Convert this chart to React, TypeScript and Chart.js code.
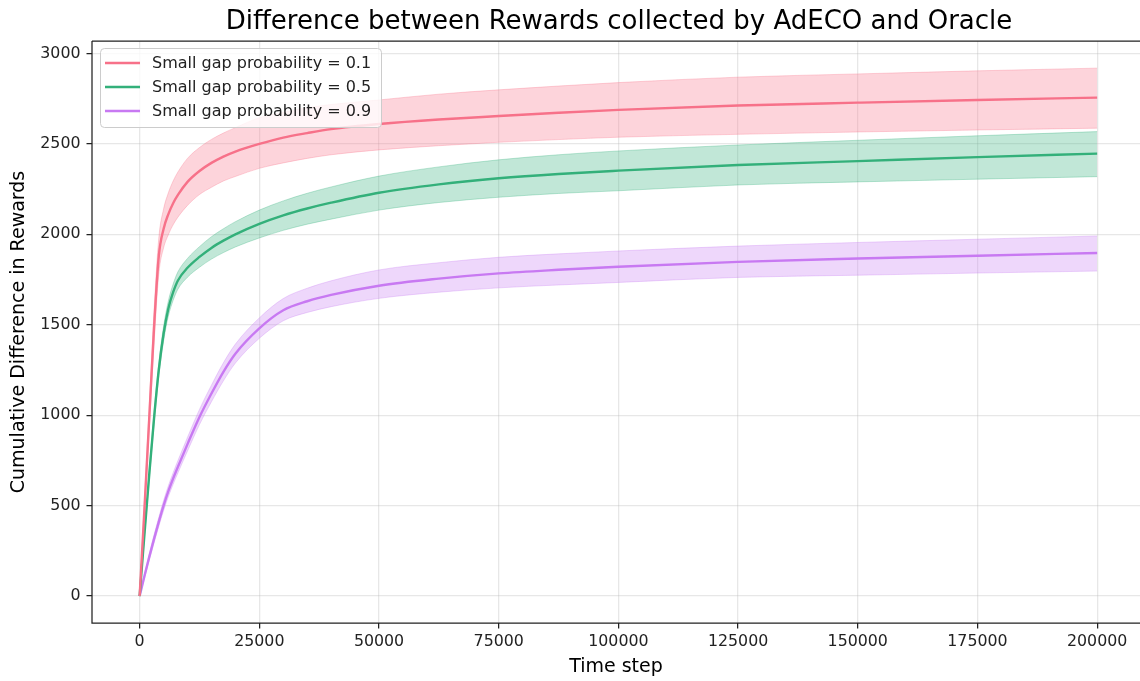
import React, { useEffect, useRef } from "react";
import { Chart, registerables } from "chart.js";

Chart.register(...registerables);

const FONT = "'DejaVu Sans', sans-serif";

const chartTitle = "Difference between Rewards collected by AdECO and Oracle";
const xAxisTitle = "Time step";
const yAxisTitle = "Cumulative Difference in Rewards";

const steps = [0, 1000, 2000, 3000, 4000, 5000, 6000, 7000, 8000, 10000, 12500, 15000, 17500, 20000, 25000, 30000, 35000, 40000, 50000, 62500, 75000, 87500, 100000, 125000, 150000, 175000, 200000];

const seriesLabels = ["Small gap probability = 0.1", "Small gap probability = 0.5", "Small gap probability = 0.9"];

const redMean = [0, 480, 980, 1480, 1880, 2030, 2112, 2172, 2218, 2290, 2350, 2395, 2430, 2458, 2500, 2535, 2560, 2582, 2610, 2635, 2654, 2672, 2688, 2712, 2728, 2743, 2756];
const redUpper = [0, 520, 1045, 1570, 1980, 2140, 2230, 2295, 2345, 2420, 2480, 2525, 2560, 2590, 2645, 2675, 2700, 2718, 2743, 2775, 2799, 2820, 2839, 2869, 2887, 2904, 2919];
const redLower = [0, 440, 915, 1390, 1780, 1925, 1998, 2053, 2095, 2160, 2220, 2260, 2295, 2320, 2365, 2395, 2420, 2440, 2467, 2490, 2509, 2524, 2537, 2553, 2566, 2577, 2587];

const greenMean = [0, 340, 670, 980, 1250, 1450, 1590, 1680, 1745, 1815, 1875, 1925, 1965, 2000, 2058, 2105, 2143, 2175, 2230, 2276, 2310, 2334, 2352, 2383, 2405, 2427, 2446];
const greenUpper = [0, 355, 695, 1010, 1285, 1490, 1632, 1725, 1793, 1867, 1932, 1987, 2031, 2070, 2134, 2185, 2227, 2262, 2322, 2373, 2412, 2440, 2461, 2494, 2520, 2545, 2568];
const greenLower = [0, 325, 645, 950, 1215, 1410, 1548, 1635, 1697, 1763, 1818, 1863, 1899, 1930, 1980, 2022, 2056, 2084, 2134, 2176, 2205, 2226, 2241, 2273, 2290, 2305, 2319];

const purpleMean = [0, 110, 215, 315, 410, 500, 580, 650, 715, 840, 990, 1120, 1240, 1340, 1480, 1580, 1630, 1665, 1716, 1755, 1784, 1804, 1821, 1848, 1866, 1882, 1897];
const purpleUpper = [0, 122, 233, 337, 435, 528, 610, 682, 749, 878, 1032, 1166, 1290, 1393, 1538, 1645, 1702, 1743, 1803, 1843, 1873, 1892, 1908, 1935, 1955, 1973, 1991];
const purpleLower = [0, 98, 197, 293, 385, 472, 550, 618, 681, 802, 948, 1074, 1190, 1288, 1425, 1522, 1568, 1600, 1646, 1680, 1704, 1720, 1734, 1762, 1774, 1786, 1797];

const xTicks = [0, 25000, 50000, 75000, 100000, 125000, 150000, 175000, 200000];
const yTicks = [0, 500, 1000, 1500, 2000, 2500, 3000];

const seriesRGB = ["247,113,137", "51,176,122", "200,121,242"];

const toPoints = (ys: number[]) => steps.map((x, i) => ({ x, y: ys[i] }));

const decorPlugin = {
  id: "decor",
  afterDatasetsDraw(chart: any) {
    const { ctx, chartArea } = chart;
    ctx.save();
    ctx.strokeStyle = "#222";
    ctx.lineWidth = 1.25;
    ctx.beginPath();
    ctx.moveTo(chartArea.left, chartArea.top);
    ctx.lineTo(chartArea.right + 2, chartArea.top);
    ctx.moveTo(chartArea.left, chartArea.top);
    ctx.lineTo(chartArea.left, chartArea.bottom);
    ctx.lineTo(chartArea.right + 2, chartArea.bottom);
    ctx.stroke();
    ctx.restore();
  },
  afterDraw(chart: any) {
    const { ctx } = chart;
    ctx.save();
    // title, centred on the axes (whose right part is cropped off)
    ctx.font = `26px ${FONT}`;
    ctx.fillStyle = "#000";
    ctx.textAlign = "center";
    ctx.textBaseline = "middle";
    ctx.fillText(chartTitle, 619, 22);

    // legend
    const ds = chart.data.datasets.slice(0, 3);
    const bx = 100.5, by = 48.5, bw = 281, bh = 79, r = 4;
    ctx.beginPath();
    ctx.moveTo(bx + r, by);
    ctx.lineTo(bx + bw - r, by);
    ctx.arcTo(bx + bw, by, bx + bw, by + r, r);
    ctx.lineTo(bx + bw, by + bh - r);
    ctx.arcTo(bx + bw, by + bh, bx + bw - r, by + bh, r);
    ctx.lineTo(bx + r, by + bh);
    ctx.arcTo(bx, by + bh, bx, by + bh - r, r);
    ctx.lineTo(bx, by + r);
    ctx.arcTo(bx, by, bx + r, by, r);
    ctx.closePath();
    ctx.fillStyle = "rgba(255,255,255,0.8)";
    ctx.fill();
    ctx.strokeStyle = "#cccccc";
    ctx.lineWidth = 1;
    ctx.stroke();
    ctx.font = `16px ${FONT}`;
    ctx.textBaseline = "middle";
    ctx.textAlign = "left";
    ds.forEach((d: any, i: number) => {
      const y = 63 + i * 24;
      ctx.strokeStyle = d.borderColor;
      ctx.lineWidth = 2.4;
      ctx.beginPath();
      ctx.moveTo(105, y);
      ctx.lineTo(140, y);
      ctx.stroke();
      ctx.fillStyle = "#222";
      ctx.fillText(d.label, 152, y + 1);
    });
    ctx.restore();
  },
};

export default function App() {
  const canvasRef = useRef<HTMLCanvasElement | null>(null);

  useEffect(() => {
    if (!canvasRef.current) return;
    const means = [redMean, greenMean, purpleMean];
    const uppers = [redUpper, greenUpper, purpleUpper];
    const lowers = [redLower, greenLower, purpleLower];

    const lineSets = means.map((m, i) => ({
      label: seriesLabels[i],
      data: toPoints(m),
      borderColor: `rgb(${seriesRGB[i]})`,
      backgroundColor: `rgb(${seriesRGB[i]})`,
      borderWidth: 2.4,
      pointRadius: 0,
      fill: false,
      cubicInterpolationMode: "monotone" as const,
      order: 0,
    }));
    const bandSets: any[] = [];
    uppers.forEach((u, i) => {
      bandSets.push({
        label: seriesLabels[i] + " (upper)",
        data: toPoints(u),
        borderColor: `rgba(${seriesRGB[i]},0.3)`,
        backgroundColor: `rgba(${seriesRGB[i]},0.3)`,
        borderWidth: 1,
        pointRadius: 0,
        fill: "+1",
        cubicInterpolationMode: "monotone",
        order: 1,
      });
      bandSets.push({
        label: seriesLabels[i] + " (lower)",
        data: toPoints(lowers[i]),
        borderColor: `rgba(${seriesRGB[i]},0.3)`,
        backgroundColor: `rgba(${seriesRGB[i]},0.3)`,
        borderWidth: 1,
        pointRadius: 0,
        fill: false,
        cubicInterpolationMode: "monotone",
        order: 1,
      });
    });

    const tickFont = { family: FONT, size: 15.8 };
    const gridColor = "rgba(176,176,176,0.3)";

    const chart = new Chart(canvasRef.current, {
      type: "line",
      data: { datasets: [...lineSets, ...bandSets] },
      options: {
        animation: false,
        responsive: true,
        maintainAspectRatio: false,
        layout: { padding: { top: 41, left: 0, right: 0, bottom: 0 } },
        plugins: {
          legend: { display: false },
          tooltip: { enabled: false },
          title: { display: false },
        },
        scales: {
          x: {
            type: "linear",
            min: -9950,
            max: 208950,
            afterBuildTicks: (scale: any) => {
              scale.ticks = xTicks.map((v) => ({ value: v }));
            },
            afterFit: (scale: any) => {
              scale.height = 58;
            },
            ticks: {
              callback: (v: any) => String(v),
              font: tickFont,
              color: "#222",
              padding: 4,
              maxRotation: 0,
              autoSkip: false,
              includeBounds: false,
            },
            grid: {
              color: gridColor,
              lineWidth: 1.26,
              drawTicks: true,
              tickLength: 5.5,
              tickColor: "#222",
              tickWidth: 1.25,
            },
            border: { display: false },
            title: {
              display: true,
              text: xAxisTitle,
              color: "#000",
              font: { family: FONT, size: 19, lineHeight: 1.2 },
              padding: { top: 0, bottom: 2.5 },
            },
          },
          y: {
            type: "linear",
            min: -149,
            max: 3069,
            afterBuildTicks: (scale: any) => {
              scale.ticks = yTicks.map((v) => ({ value: v }));
            },
            afterFit: (scale: any) => {
              scale.width = 92;
            },
            ticks: {
              callback: (v: any) => String(v),
              font: tickFont,
              color: "#222",
              padding: 6,
              autoSkip: false,
              includeBounds: false,
            },
            grid: {
              color: gridColor,
              lineWidth: 1.26,
              drawTicks: true,
              tickLength: 5.5,
              tickColor: "#222",
              tickWidth: 1.25,
            },
            border: { display: false },
            title: {
              display: true,
              text: yAxisTitle,
              color: "#000",
              font: { family: FONT, size: 19, lineHeight: 1.2 },
              padding: { top: 8, bottom: 0 },
            },
          },
        },
      },
      plugins: [decorPlugin],
    });
    return () => chart.destroy();
  }, []);

  return (
    <div style={{ position: "fixed", left: 0, top: 0, width: 1140, height: 681, background: "#fff" }}>
      <canvas ref={canvasRef} />
    </div>
  );
}
